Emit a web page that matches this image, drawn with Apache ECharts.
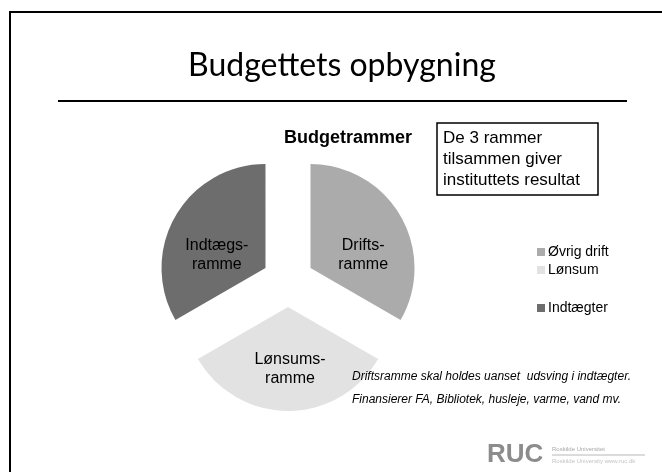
<!DOCTYPE html>
<html>
<head>
<meta charset="utf-8">
<script src="https://cdn.jsdelivr.net/npm/echarts@6/dist/echarts.min.js"></script>
<style>
  html, body { margin: 0; padding: 0; background: #fff; }
  #chart { width: 662px; height: 472px; }
</style>
</head>
<body>
<div id="chart"></div>
<script>
// slices, in drawing order (clockwise from 12 o'clock)
const categories = ['Øvrig drift', 'Lønsum', 'Indtægter']
const sliceLabels = ['Drifts-\nramme', 'Lønsums-\nramme', 'Indtægs-\nramme']
const values = [1, 1, 1]
const sliceColors = ['#ababab', '#e2e2e2', '#6d6d6d']
// the slide's labels sit a little lower than the slice middle
const labelDrop = ['gapBig', 'gapSmall', 'gapBig']
const labelPads = [[0, 0, 0, 10], [0, 0, 0, 4], [0, 2, 0, 0]]

const boxLines = ['De 3 rammer', 'tilsammen giver', 'instituttets resultat']
const notes = [
  'Driftsramme skal holdes uanset  udsving i indtægter.',
  'Finansierer FA, Bibliotek, husleje, varme, vand mv.'
]

const chart = echarts.init(document.getElementById('chart'))

const sans = 'Liberation Sans, Arial, sans-serif'

const pieData = categories.map((name, i) => ({
  name: name,
  value: values[i],
  selected: true,
  itemStyle: { color: sliceColors[i] },
  label: {
    formatter: '{' + labelDrop[i] + '| }\n' + sliceLabels[i],
    padding: labelPads[i]
  }
}))

const legendBase = {
  orient: 'vertical',
  left: 532,
  icon: 'rect',
  itemWidth: 8,
  itemHeight: 8,
  itemGap: 4,
  selectedMode: false,
  textStyle: { fontFamily: sans, fontSize: 14, color: '#000', padding: [0, 0, 0, -2] }
}

const option = {
  backgroundColor: '#fff',
  animation: false,
  title: {
    text: 'Budgetrammer',
    left: 343,
    top: 124,
    textAlign: 'center',
    textStyle: { fontFamily: sans, fontSize: 18, fontWeight: 'bold', color: '#000' }
  },
  legend: [
    Object.assign({}, legendBase, { data: categories.slice(0, 2), top: 240 }),
    Object.assign({}, legendBase, { data: categories.slice(2), top: 296 })
  ],
  series: [
    {
      type: 'pie',
      center: [288, 281],
      radius: 104,
      startAngle: 90,
      clockwise: true,
      selectedMode: 'multiple',
      selectedOffset: 26,
      silent: true,
      label: {
        show: true,
        position: 'inside',
        fontFamily: sans,
        fontSize: 16,
        lineHeight: 19,
        color: '#000',
        rich: {
          gapBig: { fontSize: 1, lineHeight: 30 },
          gapSmall: { fontSize: 1, lineHeight: 14 }
        }
      },
      labelLine: { show: false },
      emphasis: { disabled: true },
      data: pieData
    }
  ],
  graphic: [
    // slide frame
    {
      type: 'rect',
      z: 100,
      shape: { x: 10, y: 12, width: 700, height: 520 },
      style: { fill: 'none', stroke: '#000', lineWidth: 2 }
    },
    {
      type: 'text',
      z: 100,
      x: 342,
      y: 66,
      style: {
        text: 'Budgettets opbygning',
        font: '32px Lato, sans-serif',
        fill: '#000',
        textAlign: 'center',
        textVerticalAlign: 'middle'
      }
    },
    {
      type: 'line',
      z: 100,
      shape: { x1: 58, y1: 101, x2: 627, y2: 101 },
      style: { stroke: '#000', lineWidth: 2 }
    },
    // text box
    {
      type: 'rect',
      z: 100,
      shape: { x: 437, y: 123, width: 161, height: 72 },
      style: { fill: '#fff', stroke: '#000', lineWidth: 1.5 }
    },
    {
      type: 'text',
      z: 101,
      x: 443,
      y: 128,
      style: {
        text: boxLines.join('\n'),
        font: '17px ' + sans,
        lineHeight: 21,
        fill: '#000'
      }
    },
    {
      type: 'text',
      z: 100,
      x: 352,
      y: 377,
      style: {
        text: notes[0],
        font: 'italic 12px ' + sans,
        fill: '#000',
        textVerticalAlign: 'middle'
      }
    },
    {
      type: 'text',
      z: 100,
      x: 352,
      y: 400,
      style: {
        text: notes[1],
        font: 'italic 12px ' + sans,
        fill: '#000',
        textVerticalAlign: 'middle'
      }
    },
    // RUC logo
    {
      type: 'text',
      z: 100,
      x: 487,
      y: 455,
      style: {
        text: 'RUC',
        font: 'bold 26px ' + sans,
        fill: '#8c8c8c',
        textVerticalAlign: 'middle'
      }
    },
    {
      type: 'text',
      z: 100,
      x: 552,
      y: 449,
      style: {
        text: 'Roskilde Universitet',
        font: '6px ' + sans,
        fill: '#a8a8a8',
        textVerticalAlign: 'middle'
      }
    },
    {
      type: 'line',
      z: 100,
      shape: { x1: 552, y1: 455, x2: 645, y2: 455 },
      style: { stroke: '#b8b8b8', lineWidth: 1 }
    },
    {
      type: 'text',
      z: 100,
      x: 552,
      y: 461,
      style: {
        text: 'Roskilde University www.ruc.dk',
        font: '6px ' + sans,
        fill: '#c4c4c4',
        textVerticalAlign: 'middle'
      }
    }
  ]
}

chart.setOption(option)
</script>
</body>
</html>
